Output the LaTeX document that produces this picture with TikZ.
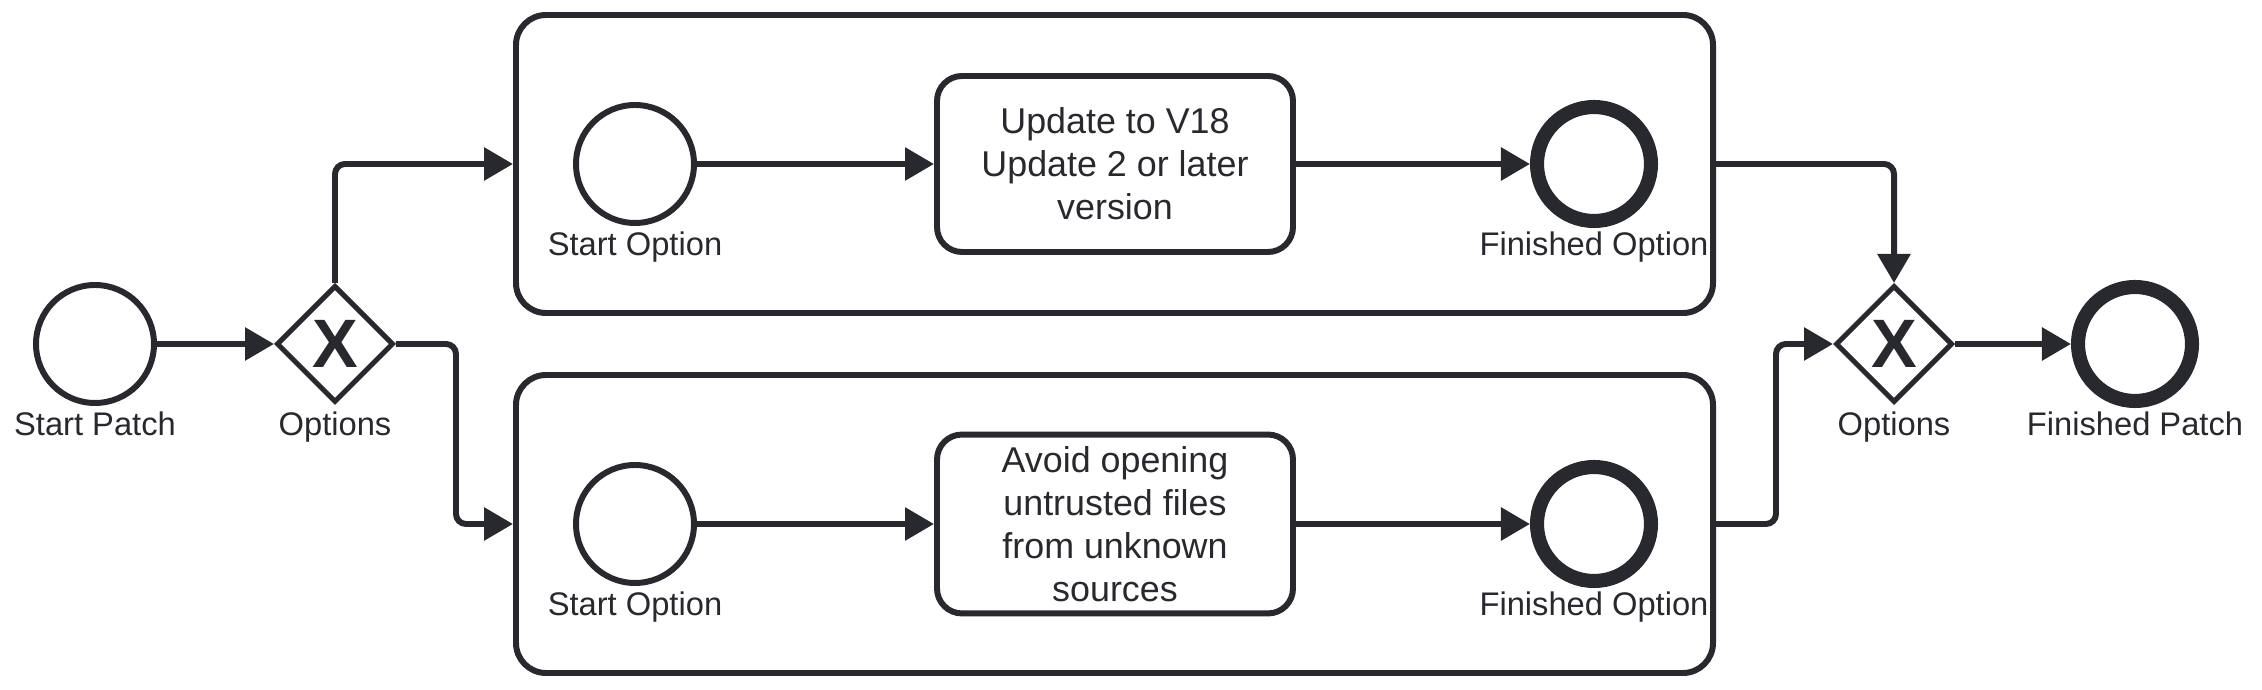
\documentclass[tikz,border=0pt]{standalone}
\usepackage{fontspec}
\setmainfont{Liberation Sans}
\usetikzlibrary{arrows.meta,shapes.geometric}

\begin{document}
\begin{tikzpicture}[
		line width=1.7pt,
		every node/.style={font=\fontsize{9.3}{11}\selectfont},
		event/.style={circle,draw=LineDark,minimum size=1.18cm,inner sep=0pt},
		endevent/.style={event,line width=4pt,minimum size=1.14cm},
		gateway/.style={diamond,draw=LineDark,text=LineDark,line width=1.42pt,
			minimum width=1.17cm,minimum height=1.17cm,inner sep=0pt,
			font=\fontsize{19.5}{20}\selectfont\bfseries},
		task/.style={rectangle,draw=LineDark,text=LineDark,rounded corners=0.25cm,
			minimum width=3.56cm,minimum height=1.76cm,align=center,
			font=\fontsize{10.2}{12.25}\selectfont},
		subproc/.style={rectangle,draw=LineDark,rounded corners=0.3cm,
			minimum width=11.97cm,minimum height=2.98cm},
		tag/.style={anchor=base,text=LineDark},
		flow/.style={draw=LineDark,rounded corners=0.1cm,
			-{Triangle[length=0.29cm,width=0.32cm]}}
	]
		\definecolor{LineDark}{RGB}{40,41,46}
		\useasboundingbox (0,0) rectangle (22.62,6.9);
		\node[subproc] (SubTop) at (11.145,5.26) {};
		\node[subproc] (SubBot) at (11.145,1.66) {};
		\node[event] (StartPatch) at (0.95,3.46) {};
		\node[gateway] (GwSplit) at (3.35,3.46) {X};
		\node[event] (StartTop) at (6.35,5.26) {};
		\node[task] (TaskTop) at (11.15,5.26)
			{Update to V18\\Update 2 or later\\version};
		\node[endevent] (EndTop) at (15.94,5.26) {};
		\node[event] (StartBot) at (6.35,1.66) {};
		\node[task] (TaskBot) at (11.15,1.66)
			{Avoid opening\\untrusted files\\from unknown\\sources};
		\node[endevent] (EndBot) at (15.94,1.66) {};
		\node[gateway] (GwJoin) at (18.94,3.46) {X};
		\node[endevent] (FinPatch) at (21.35,3.46) {};
		\node[tag] (StartPatchTag) at (0.95,2.54)
			{Start Patch};
		\node[tag] (GwSplitTag) at (3.35,2.54)
			{Options};
		\node[tag] (StartTopTag) at (6.35,4.34)
			{Start Option};
		\node[tag] (EndTopTag) at (15.94,4.34)
			{Finished Option};
		\node[tag] (StartBotTag) at (6.35,0.74)
			{Start Option};
		\node[tag] (EndBotTag) at (15.94,0.74)
			{Finished Option};
		\node[tag] (GwJoinTag) at (18.94,2.54)
			{Options};
		\node[tag] (FinPatchTag) at (21.35,2.54)
			{Finished Patch};
		\draw[flow] (StartPatch) -- (GwSplit);
		\draw[flow] (GwSplit.north) |- (SubTop.west);
		\draw[flow] (GwSplit.east) -- ++(0.6,0) |- (SubBot.west);
		\draw[flow] (StartTop) -- (TaskTop);
		\draw[flow] (TaskTop) -- (EndTop);
		\draw[flow] (StartBot) -- (TaskBot);
		\draw[flow] (TaskBot) -- (EndBot);
		\draw[flow] (SubTop.east) -| (GwJoin.north);
		\draw[flow] (SubBot.east) -- ++(0.6,0) |- (GwJoin.west);
		\draw[flow] (GwJoin) -- (FinPatch);
	\end{tikzpicture}
\end{document}
